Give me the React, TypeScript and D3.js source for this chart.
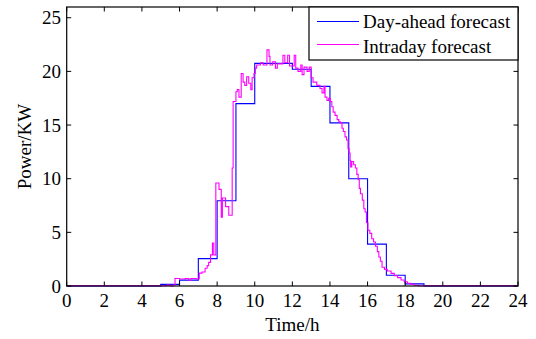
import React from "react";
import * as d3 from "d3";

const hours = d3.range(0, 25);
const xTicks = [0, 2, 4, 6, 8, 10, 12, 14, 16, 18, 20, 22, 24];
const yTicks = [0, 5, 10, 15, 20, 25];

// Day-ahead forecast: hourly step values (hour h -> h+1)
const dayAheadValues = [0, 0, 0, 0, 0, 0.15, 0.55, 2.55, 7.95, 17.0, 20.75, 20.75, 20.2, 18.6, 15.2, 10.0, 3.9, 1.0, 0.2, 0, 0, 0, 0, 0];

// Intraday forecast: step breakpoints (time in h) and values
const intradayTimes = [0, 5.3, 5.5, 5.65, 5.76, 6.0, 6.3, 6.5, 6.6, 6.9, 7.05, 7.2, 7.36, 7.47, 7.55, 7.65, 7.75, 7.82, 7.93, 8.1, 8.22, 8.28, 8.45, 8.62, 8.8, 8.85, 9.0, 9.07, 9.16, 9.28, 9.38, 9.47, 9.57, 9.68, 9.79, 9.86, 9.96, 10.03, 10.1, 10.3, 10.45, 10.65, 10.76, 10.81, 10.95, 11.1, 11.2, 11.5, 11.6, 11.75, 11.85, 12.1, 12.18, 12.3, 12.45, 12.52, 12.62, 12.78, 12.9, 13.0, 13.1, 13.3, 13.47, 13.58, 13.68, 13.74, 13.84, 13.93, 14.02, 14.1, 14.17, 14.27, 14.38, 14.47, 14.55, 14.64, 14.71, 14.8, 14.88, 14.96, 15.02, 15.07, 15.1, 15.16, 15.26, 15.35, 15.43, 15.5, 15.56, 15.62, 15.72, 15.8, 15.87, 15.94, 16.02, 16.12, 16.22, 16.32, 16.42, 16.52, 16.6, 16.68, 16.77, 16.9, 17.05, 17.25, 17.42, 17.6, 17.78, 17.95, 18.12, 18.3, 18.48, 18.7, 24];
const intradayValues = [0.03, 0.08, 0.0, 0.1, 0.7, 0.65, 0.7, 0.55, 0.7, 0.65, 1.2, 1.3, 1.65, 1.9, 2.2, 2.9, 4.0, 2.9, 9.6, 9.0, 6.4, 8.2, 7.4, 6.6, 11.0, 17.2, 18.1, 18.3, 17.6, 19.8, 19.0, 18.7, 19.5, 18.9, 18.3, 19.4, 19.8, 20.3, 20.6, 20.8, 20.6, 22.0, 21.4, 20.6, 20.9, 20.3, 20.7, 21.5, 20.8, 21.5, 20.5, 21.5, 20.3, 20.0, 20.6, 19.7, 20.4, 20.0, 20.4, 19.4, 19.0, 18.7, 18.4, 18.0, 18.6, 17.6, 17.3, 17.5, 17.2, 16.7, 16.2, 15.9, 15.5, 15.3, 15.2, 14.7, 14.4, 13.9, 13.6, 12.8, 12.4, 11.7, 11.1, 11.6, 11.3, 11.0, 10.4, 9.9, 9.1, 8.6, 8.0, 7.2, 6.9, 5.9, 5.2, 4.9, 4.4, 4.1, 3.7, 3.2, 2.7, 2.3, 1.75, 1.55, 1.4, 1.18, 0.96, 0.78, 0.56, 0.4, 0.25, 0.16, 0.07, 0.03, 0.03];

const seriesNames = ["Day-ahead forecast", "Intraday forecast"];
const seriesColors = ["#0000ff", "#ff00ff"];

export default function App() {
  const W = 536, H = 339;
  const L = 66.7, R = 518, T = 7, B = 286;
  const x = d3.scaleLinear().domain([0, 24]).range([L, R]);
  const y = d3.scaleLinear().domain([0, 26]).range([B, T]);
  const txt: React.CSSProperties = { fontFamily: "Liberation Serif, Times New Roman, serif", fontSize: 19 };

  const dayData: [number, number][] = hours.map((h, i) => [h, dayAheadValues[Math.min(i, dayAheadValues.length - 1)]]);
  const intraData: [number, number][] = intradayTimes.map((t, i) => [t, intradayValues[i]]);
  const line = d3.line<[number, number]>().x(d => x(d[0])).y(d => y(d[1])).curve(d3.curveStepAfter);

  const tickLen = 4.5;
  return (
    <svg width={W} height={H} style={{ position: "absolute", left: 0, top: 0, background: "#fff" }}>
      <rect x={0} y={0} width={W} height={H} fill="#fff" />
      <path d={line(dayData) || ""} fill="none" stroke={seriesColors[0]} strokeWidth={1.1} />
      <path d={line(intraData) || ""} fill="none" stroke={seriesColors[1]} strokeWidth={1.1} />
      <rect x={L} y={T} width={R - L} height={B - T} fill="none" stroke="#000" strokeWidth={1.2} />
      {xTicks.map(t => (
        <g key={"x" + t}>
          <line x1={x(t)} x2={x(t)} y1={B} y2={B - tickLen} stroke="#000" />
          <line x1={x(t)} x2={x(t)} y1={T} y2={T + tickLen} stroke="#000" />
          <text x={x(t)} y={307} style={txt} textAnchor="middle">{t}</text>
        </g>
      ))}
      {yTicks.map(t => (
        <g key={"y" + t}>
          <line x1={L} x2={L + tickLen} y1={y(t)} y2={y(t)} stroke="#000" />
          <line x1={R} x2={R - tickLen} y1={y(t)} y2={y(t)} stroke="#000" />
          <text x={61} y={y(t) + 6.5} style={txt} textAnchor="end">{t}</text>
        </g>
      ))}
      <text x={(L + R) / 2} y={331} style={txt} textAnchor="middle">Time/h</text>
      <text transform={`translate(31,${(T + B) / 2}) rotate(-90)`} style={txt} textAnchor="middle">Power/KW</text>
      <rect x={309} y={T} width={R - 309} height={53} fill="#fff" stroke="#000" strokeWidth={1.2} />
      {seriesNames.map((n, i) => (
        <g key={n}>
          <line x1={317} x2={359} y1={21.5 + i * 23} y2={21.5 + i * 23} stroke={seriesColors[i]} strokeWidth={1} shapeRendering="crispEdges" />
          <text x={363} y={27.5 + i * 25.5} style={txt}>{n}</text>
        </g>
      ))}
    </svg>
  );
}
